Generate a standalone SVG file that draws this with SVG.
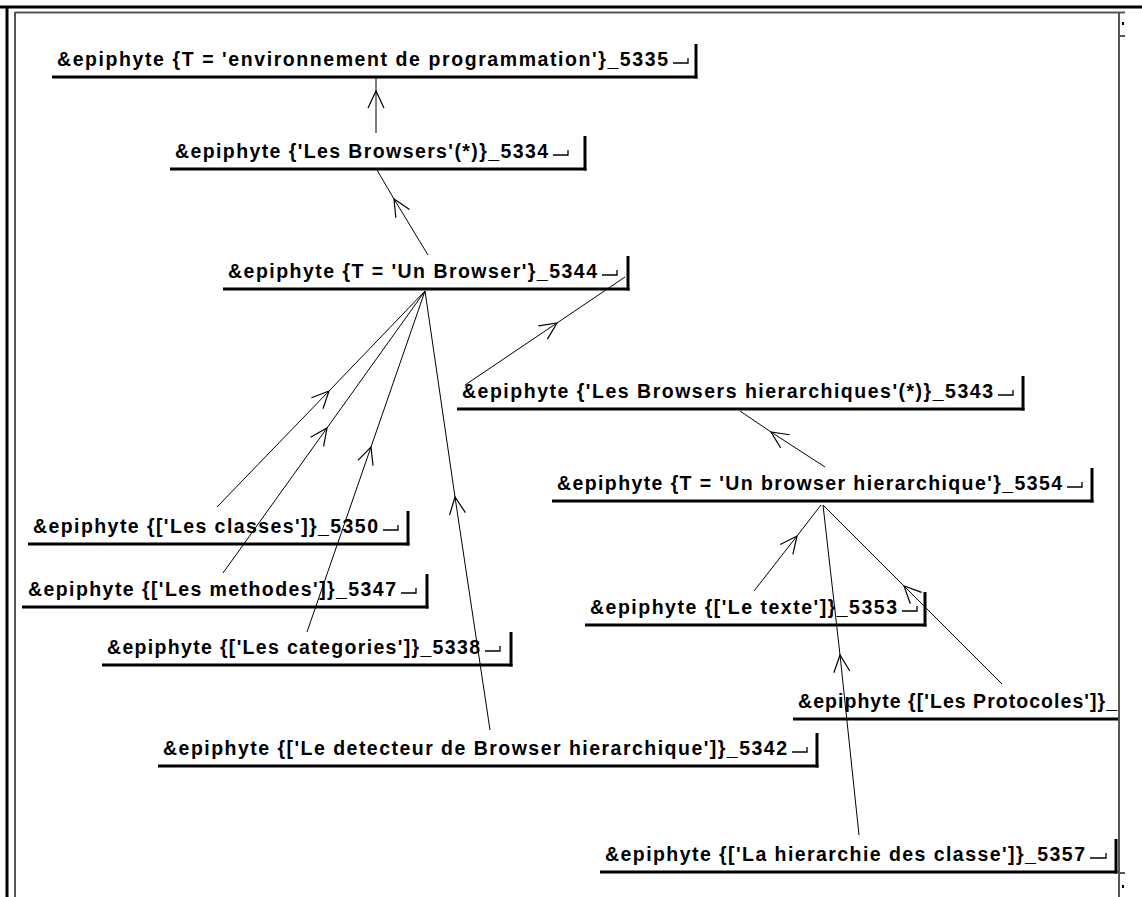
<svg xmlns="http://www.w3.org/2000/svg" width="1142" height="897" viewBox="0 0 1142 897">
<style>
.t{font-family:"Liberation Sans",Arial,sans-serif;font-weight:bold;font-size:19.5px;fill:#000}
.b{stroke:#000;stroke-width:3;fill:none}
.r{stroke:#000;stroke-width:1.3;fill:none}
.e{stroke:#000;stroke-width:1;fill:none;marker-mid:url(#ah)}
.f{stroke:#000;stroke-width:3;fill:none}
.g{stroke:#555;stroke-width:2;fill:none}
</style>
<defs>
<marker id="ah" markerUnits="userSpaceOnUse" orient="auto" markerWidth="20" markerHeight="20" viewBox="-18 -10 20 20" refX="0" refY="0" overflow="visible">
<path d="M-17,-8 L0,0 L-17,8" fill="none" stroke="#000" stroke-width="1.2"/>
</marker>
<clipPath id="clipR"><rect x="0" y="0" width="1118" height="897"/></clipPath>
</defs>
<rect width="1142" height="897" fill="#fff"/>
<g id="frame">
<line class="f" x1="0" y1="7" x2="1142" y2="7"/>
<line class="f" x1="7" y1="7" x2="7" y2="897"/>
<line class="g" x1="15" y1="12.5" x2="1125" y2="12.5"/>
<line class="g" x1="15" y1="12" x2="15" y2="897"/>
<line class="g" x1="1119" y1="12" x2="1119" y2="897"/>
<line class="g" x1="1119" y1="36" x2="1125" y2="36"/>
<line class="g" x1="1119" y1="873" x2="1125" y2="873"/>
<rect x="1122" y="22" width="2" height="3" fill="#000"/>
<rect x="1122" y="885" width="2" height="3" fill="#000"/>
</g>
<g id="connectors">
<polyline class="e" points="376,133 376,91 376,78"/>
<polyline class="e" points="428,255 394,199 377,170"/>
<polyline class="e" points="465,385 557,323 625,277"/>
<polyline class="e" points="825,467 771,432 740,411"/>
<polyline class="e" points="217,507 329,391 425,291"/>
<polyline class="e" points="223,573 327,428 425,291"/>
<polyline class="e" points="307,632 371,447 425,291"/>
<polyline class="e" points="490,730 455,497 425,291"/>
<polyline class="e" points="754,591 797,536 821,505"/>
<polyline class="e" points="859,835 840,655 823,505"/>
<polyline class="e" points="1002,684 904,586 823,505"/>
</g>
<g id="n5335">
<text class="t" x="57" y="66" textLength="611">&amp;epiphyte {T = 'environnement de programmation'}_5335</text>
<path class="r" d="M673,63 H688 V58"/>
<path class="b" d="M52,77 H697.5"/>
<line class="b" x1="696" y1="44" x2="696" y2="78.5"/>
</g>
<g id="n5334">
<text class="t" x="175" y="158" textLength="373">&amp;epiphyte {'Les Browsers'(*)}_5334</text>
<path class="r" d="M553,155 H568 V150"/>
<path class="b" d="M170,169 H586.5"/>
<line class="b" x1="585" y1="136" x2="585" y2="170.5"/>
</g>
<g id="n5344">
<text class="t" x="228" y="278" textLength="369">&amp;epiphyte {T = 'Un Browser'}_5344</text>
<path class="r" d="M602,275 H617 V270"/>
<path class="b" d="M223,289 H629.5"/>
<line class="b" x1="628" y1="256" x2="628" y2="290.5"/>
</g>
<g id="n5343">
<text class="t" x="462" y="398" textLength="531">&amp;epiphyte {'Les Browsers hierarchiques'(*)}_5343</text>
<path class="r" d="M998,395 H1013 V390"/>
<path class="b" d="M457,409 H1024.5"/>
<line class="b" x1="1023" y1="376" x2="1023" y2="410.5"/>
</g>
<g id="n5354">
<text class="t" x="557" y="490" textLength="505">&amp;epiphyte {T = 'Un browser hierarchique'}_5354</text>
<path class="r" d="M1067,487 H1082 V482"/>
<path class="b" d="M552,501 H1093.5"/>
<line class="b" x1="1092" y1="468" x2="1092" y2="502.5"/>
</g>
<g id="n5350">
<text class="t" x="33" y="533" textLength="345">&amp;epiphyte {['Les classes']}_5350</text>
<path class="r" d="M383,530 H398 V525"/>
<path class="b" d="M28,544 H409.5"/>
<line class="b" x1="408" y1="511" x2="408" y2="545.5"/>
</g>
<g id="n5347">
<text class="t" x="28" y="596" textLength="368">&amp;epiphyte {['Les methodes']}_5347</text>
<path class="r" d="M401,593 H416 V588"/>
<path class="b" d="M22,607 H428.5"/>
<line class="b" x1="427" y1="574" x2="427" y2="608.5"/>
</g>
<g id="n5338">
<text class="t" x="107" y="654" textLength="373">&amp;epiphyte {['Les categories']}_5338</text>
<path class="r" d="M485,651 H500 V646"/>
<path class="b" d="M102,665 H512.5"/>
<line class="b" x1="511" y1="632" x2="511" y2="666.5"/>
</g>
<g id="n5353">
<text class="t" x="590" y="614" textLength="307">&amp;epiphyte {['Le texte']}_5353</text>
<path class="r" d="M902,611 H917 V606"/>
<path class="b" d="M585,625 H926.5"/>
<line class="b" x1="925" y1="592" x2="925" y2="626.5"/>
</g>
<g id="nProtocoles" clip-path="url(#clipR)">
<text class="t" x="798" y="708" textLength="319">&amp;epiphyte {['Les Protocoles']}_</text>
<path class="b" d="M793,719 H1118"/>
</g>
<g id="n5342">
<text class="t" x="163" y="755" textLength="624">&amp;epiphyte {['Le detecteur de Browser hierarchique']}_5342</text>
<path class="r" d="M792,752 H807 V747"/>
<path class="b" d="M158,766 H818.5"/>
<line class="b" x1="817" y1="733" x2="817" y2="767.5"/>
</g>
<g id="n5357">
<text class="t" x="605" y="861" textLength="480">&amp;epiphyte {['La hierarchie des classe']}_5357</text>
<path class="r" d="M1090,858 H1106 V853"/>
<path class="b" d="M600,872 H1117.5"/>
<line class="b" x1="1116" y1="839" x2="1116" y2="873.5"/>
</g>
</svg>
